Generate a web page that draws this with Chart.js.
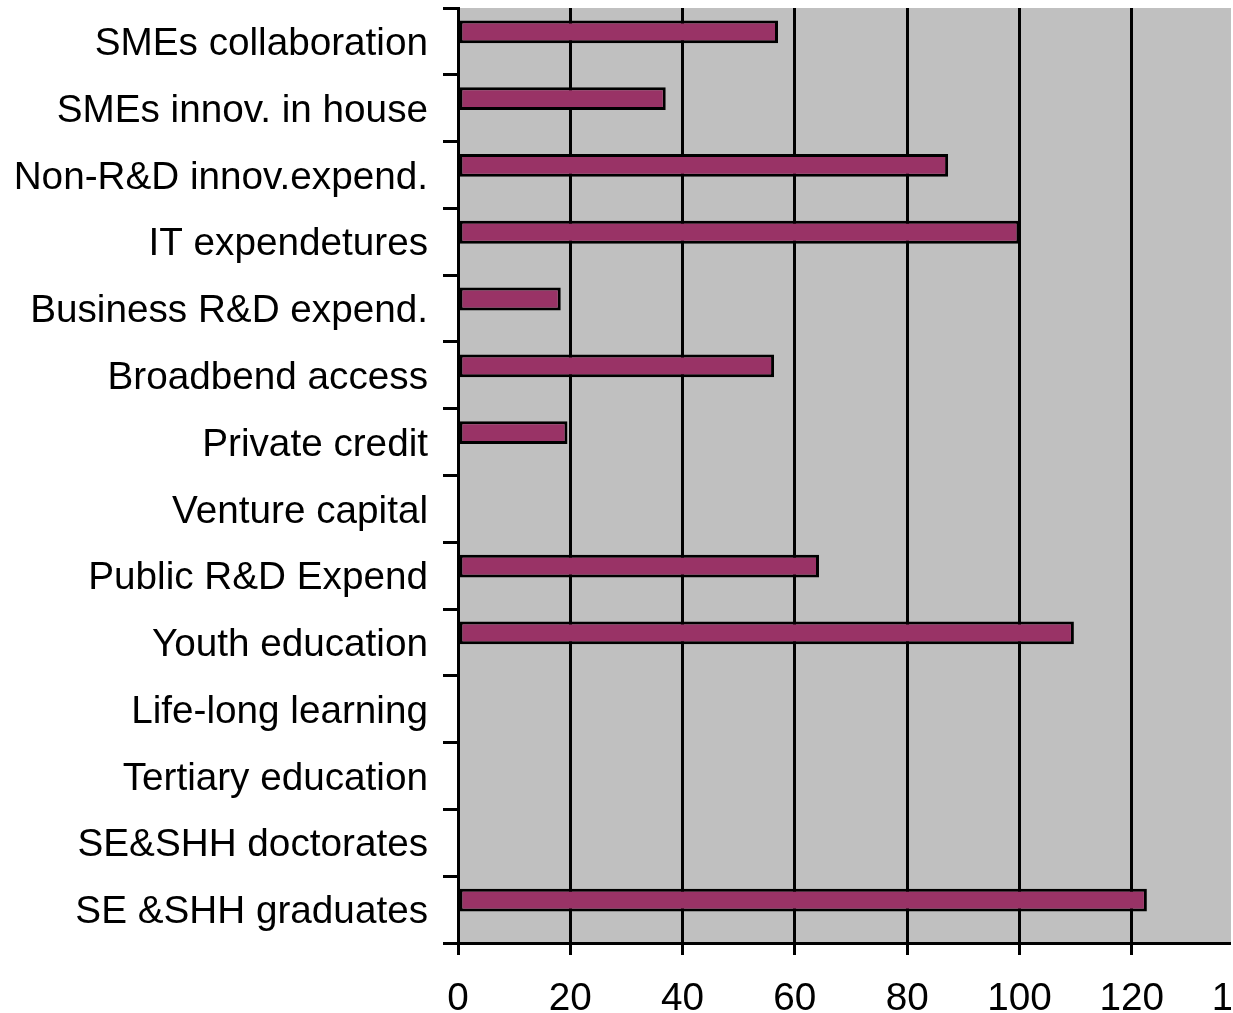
<!DOCTYPE html>
<html>
<head>
<meta charset="utf-8">
<script src="https://cdn.jsdelivr.net/npm/chart.js@4/dist/chart.umd.min.js"></script>
<style>
  html, body { margin: 0; padding: 0; background: #ffffff; }
  #wrap { position: relative; width: 1231px; height: 1013px; overflow: hidden; background: #ffffff; }
  #chart { position: absolute; left: 0; top: 0; }
</style>
</head>
<body>
<div id="wrap"><canvas id="chart" width="1290" height="1013"></canvas></div>
<script>
// Innovation indicators, index values
const categories = [
  'SMEs collaboration',
  'SMEs innov. in house',
  'Non-R&D innov.expend.',
  'IT expendetures',
  'Business R&D expend.',
  'Broadbend access',
  'Private credit',
  'Venture capital',
  'Public R&D Expend',
  'Youth education',
  'Life-long learning',
  'Tertiary education',
  'SE&SHH doctorates',
  'SE &SHH graduates'
];
const indexValues = [57, 37, 87.3, 100, 18.3, 56.3, 19.5, null, 64.3, 109.7, null, null, null, 122.7];
// second series slot, empty
const secondValues = [null, null, null, null, null, null, null, null, null, null, null, null, null, null];
const xTicks = [0, 20, 40, 60, 80, 100, 120, 140];

const FONT = { family: '"Liberation Sans", Arial, sans-serif', size: 38.7 };

const plotBackground = {
  id: 'plotBackground',
  beforeDraw(chart) {
    const { ctx, chartArea: a } = chart;
    ctx.save();
    ctx.fillStyle = '#c0c0c0';
    ctx.fillRect(a.left, a.top, a.right - a.left, a.bottom - a.top);
    ctx.restore();
  }
};

new Chart(document.getElementById('chart'), {
  type: 'bar',
  data: {
    labels: categories,
    datasets: [
      {
        data: indexValues,
        backgroundColor: '#993366',
        borderColor: '#000000',
        borderWidth: 3,
        borderSkipped: false,
        categoryPercentage: 0.57,
        barPercentage: 1.2
      },
      {
        data: secondValues,
        backgroundColor: '#993366',
        borderColor: '#000000',
        borderWidth: 3,
        categoryPercentage: 0.57,
        barPercentage: 1.2
      }
    ]
  },
  options: {
    indexAxis: 'y',
    responsive: false,
    animation: false,
    layout: { padding: { top: 8, right: 46, bottom: 0, left: 0 } },
    plugins: { legend: { display: false }, tooltip: { enabled: false } },
    scales: {
      x: {
        min: xTicks[0],
        max: xTicks[xTicks.length - 1],
        afterBuildTicks(scale) { scale.ticks = xTicks.map(v => ({ value: v })); },
        ticks: { color: '#000000', font: FONT, padding: 21, maxRotation: 0 },
        grid: { color: '#000000', lineWidth: 3, tickLength: 12, drawOnChartArea: true },
        border: { display: true, color: '#000000', width: 3 },
        afterFit(scale) {
          scale.height = 70;
          scale.paddingLeft = 0;
          scale.paddingRight = 0;
        }
      },
      y: {
        ticks: { color: '#000000', font: FONT, padding: 15, autoSkip: false, labelOffset: 3 },
        grid: { color: '#000000', lineWidth: 3, tickLength: 15, drawOnChartArea: false, offset: true },
        border: { display: true, color: '#000000', width: 3 },
        afterFit(scale) {
          scale.width = 458;
          scale.paddingTop = 0;
          scale.paddingBottom = 0;
        }
      }
    }
  },
  plugins: [plotBackground]
});
</script>
</body>
</html>
